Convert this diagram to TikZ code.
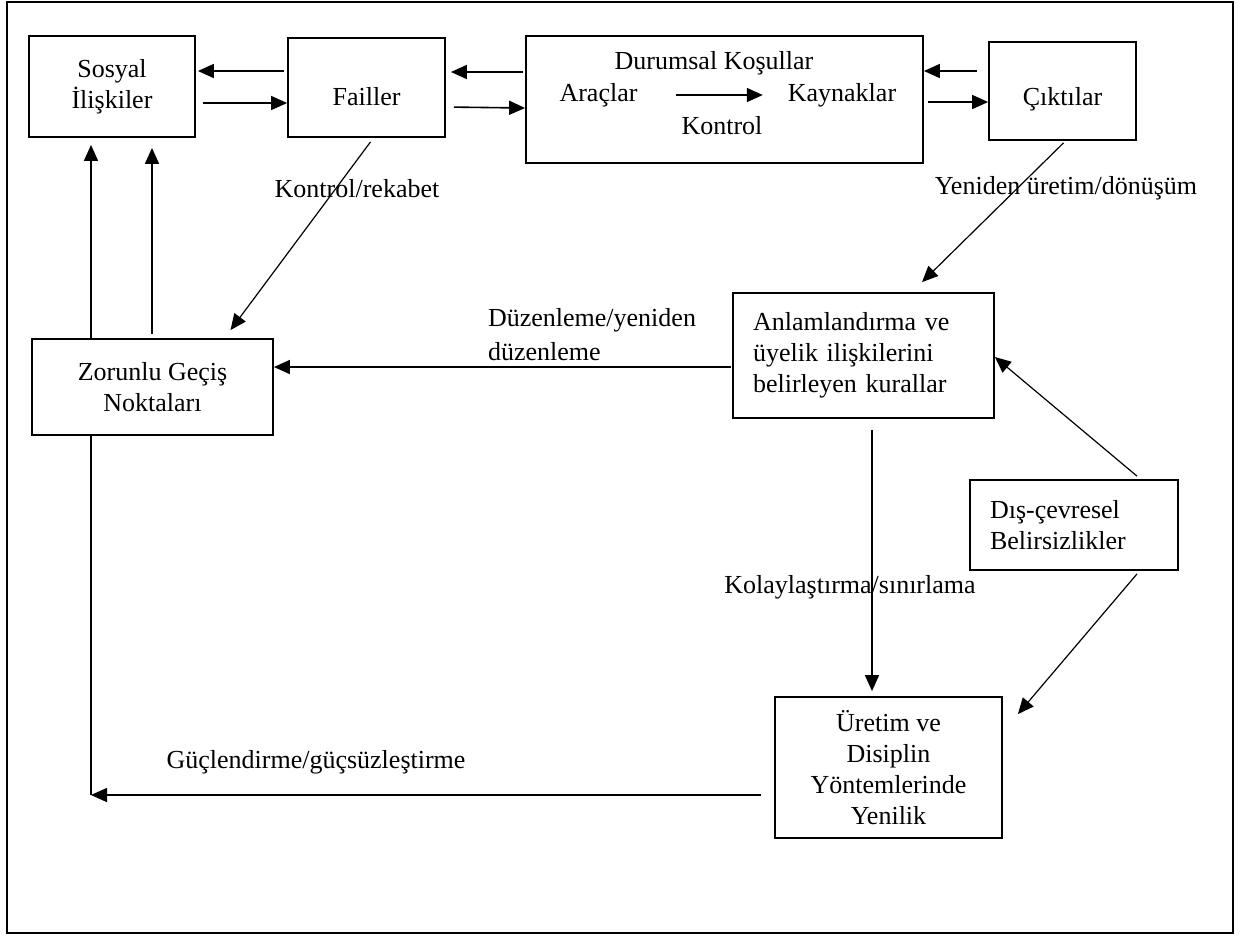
\documentclass[tikz,border=0pt]{standalone}
\usepackage{fontspec}
\setmainfont{Liberation Serif}
\usetikzlibrary{arrows.meta, positioning, calc}

\begin{document}
\begin{tikzpicture}[
        x=0.5pt, y=-0.5pt,
        every node/.style={font=\fontsize{13}{15.5}\selectfont},
        kutu/.style={draw, line width=0.9pt, inner sep=0pt, align=center},
        ok/.style={line width=0.8pt, -{Triangle[length=8pt, width=7pt]}},
        ince/.style={line width=0.6pt, -{Triangle[length=8pt, width=7pt]}}
    ]
        \useasboundingbox (0,0) rectangle (1247,939);
        \draw[line width=1.2pt] (7,2) rectangle (1233,933);

        % Kutular
        \node[kutu, minimum width=83pt, minimum height=50.5pt] (sosyal) at (112,86.5) {Sosyal\\İlişkiler};
        \node[kutu, minimum width=78.5pt, text height=33.5pt, text depth=16pt] (failler) at (366.5,87.5) {Failler};
        \node[kutu, minimum width=198.5pt, minimum height=63.5pt] (durumsal) at (724.5,99.5) {};
        \node (baslik) at (714,63) {Durumsal Koşullar};
        \node (araclar) at (598.5,95) {Araçlar};
        \node (kaynaklar) at (842,95) {Kaynaklar};
        \node (kontrol) at (722,126) {Kontrol};
        \node[kutu, minimum width=73.5pt, text height=31.5pt, text depth=17.5pt] (cikti) at (1062.5,91) {Çıktılar};
        \node[kutu, minimum width=120.5pt, minimum height=48pt] (zorunlu) at (152.5,387) {Zorunlu Geçiş\\Noktaları};
        \node[kutu, align=left, inner xsep=10pt, text width=110.5pt, minimum height=62.5pt] (anlam) at (863.5,355.5)
            {Anlamlandırma ve\\üyelik ilişkilerini\\belirleyen kurallar};
        \node[kutu, align=left, inner xsep=10pt, text width=84pt, minimum height=45pt] (dis) at (1074,525)
            {Dış-çevresel\\Belirsizlikler};
        \node[kutu, minimum width=113.5pt, minimum height=70.5pt] (uretim) at (888.5,767.5)
            {Üretim ve\\Disiplin\\Yöntemlerinde\\Yenilik};

        % Etiketler
        \node (kontrolrek) at (357,189) {Kontrol/rekabet};
        \node (yeniden) at (1066,188) {Yeniden üretim/dönüşüm};
        \node[anchor=west, align=left] (duzen) at (481,335) {Düzenleme/yeniden\\[1.5pt]düzenleme};
        \node (kolay) at (850,587) {Kolaylaştırma/sınırlama};
        \node (guc) at (316,762) {Güçlendirme/güçsüzleştirme};
        \coordinate (kose) at (91,795);

        % Üst sıradaki oklar
        \draw[ok, shorten <=1.5pt, shorten >=1pt] (failler.west |- 0,71) -- (sosyal.east |- 0,71);
        \draw[ok, shorten <=3.5pt] (sosyal.east |- 0,103) -- (failler.west |- 0,103);
        \draw[ok, shorten <=1pt, shorten >=2.5pt] (durumsal.west |- 0,72) -- (failler.east |- 0,72);
        \draw[ok, shorten <=4pt] (failler.east |- 0,107) -- (durumsal.west |- 0,108);
        \draw[ok, shorten <=5.5pt] (cikti.west |- 0,71) -- (durumsal.east |- 0,71);
        \draw[ok, shorten <=2pt] (durumsal.east |- 0,102) -- (cikti.west |- 0,102);
        \draw[ok, shorten <=15.5pt, shorten >=9pt] (araclar) -- (kaynaklar);

        % Çapraz oklar
        \draw[ince] ([xshift=2pt, yshift=-2pt]failler.south) -- ([xshift=39pt, yshift=4pt]zorunlu.north);
        \draw[ince] ([xshift=0.5pt, yshift=-1pt]cikti.south) -- ([xshift=29.25pt, yshift=5pt]anlam.north);
        \draw[ince] ([xshift=31.5pt, yshift=1.5pt]dis.north) -- ([yshift=-0.75pt]anlam.east);
        \draw[ince] ([xshift=31.5pt, yshift=-1.5pt]dis.south) -- ([xshift=7.5pt, yshift=-9pt]uretim.north east);

        % Dikey ve yatay oklar
        \draw[ok, shorten >=3.5pt] (zorunlu.north -| kose) -- (sosyal.south -| kose);
        \draw[ok, shorten <=2pt, shorten >=5pt] (zorunlu.north -| 152,0) -- (sosyal.south -| 152,0);
        \draw[ok, shorten <=0.5pt] (anlam.west |- 0,367) -- (zorunlu.east |- 0,367);
        \draw[ok, shorten <=5.5pt, shorten >=2.5pt] (anlam.south -| 872,0) -- (uretim.north -| 872,0);
        \draw[line width=0.8pt] (zorunlu.south -| kose) -- (kose);
        \draw[ok, shorten <=6.5pt] (uretim.west |- kose) -- (kose);
    \end{tikzpicture}
\end{document}
